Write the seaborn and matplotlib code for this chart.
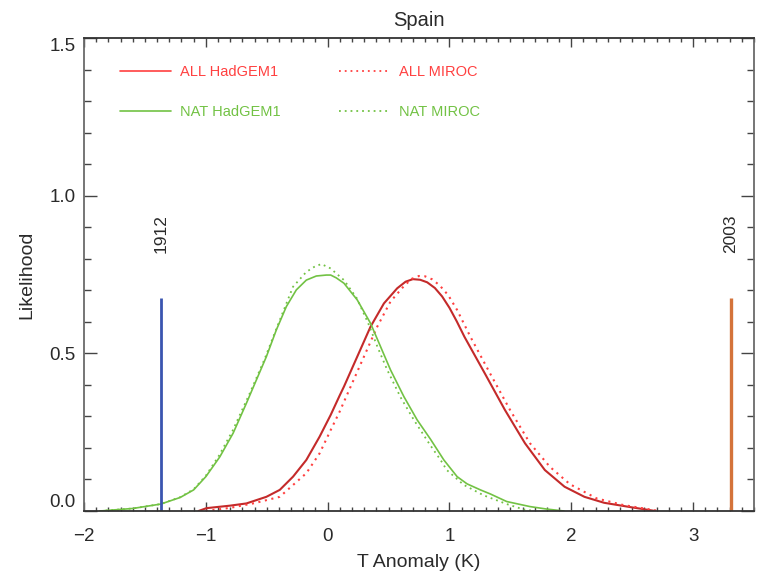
import numpy as np
import pandas as pd
import matplotlib
matplotlib.use("Agg")
import matplotlib.pyplot as plt
from matplotlib.lines import Line2D
from matplotlib.ticker import MultipleLocator, FixedLocator
import seaborn as sns

# ---------------- data ----------------
nat_had_x = [-1.87, -1.6, -1.37, -1.21, -1.10, -1.0, -0.885, -0.776, -0.667, -0.585, -0.503,
             -0.421, -0.339, -0.257, -0.175, -0.093, -0.011, 0.025, 0.071, 0.134, 0.243, 0.352,
             0.434, 0.516, 0.626, 0.735, 0.844, 0.954, 1.063, 1.145, 1.254, 1.336, 1.47, 1.661,
             1.8, 1.94]
nat_had_y = [0.0, 0.008, 0.022, 0.043, 0.067, 0.109, 0.172, 0.247, 0.342, 0.416, 0.49,
             0.575, 0.649, 0.702, 0.733, 0.746, 0.749, 0.749, 0.740, 0.723, 0.67, 0.596,
             0.522, 0.448, 0.363, 0.289, 0.228, 0.162, 0.109, 0.086, 0.067, 0.054, 0.03, 0.014,
             0.006, 0.0]

nat_miroc_x = [-1.87, -1.6, -1.37, -1.21, -1.10, -1.0, -0.89, -0.78, -0.639, -0.52, -0.393,
               -0.284, -0.175, -0.11, -0.052, 0.025, 0.071, 0.134, 0.24, 0.333, 0.41, 0.489,
               0.6, 0.708, 0.842, 0.927, 0.978, 1.117, 1.279, 1.47, 1.607, 1.7]
nat_miroc_y = [0.0, 0.008, 0.022, 0.044, 0.069, 0.112, 0.177, 0.255, 0.374, 0.48, 0.606,
               0.712, 0.759, 0.775, 0.784, 0.77, 0.754, 0.733, 0.675, 0.596, 0.52, 0.448,
               0.36, 0.289, 0.209, 0.162, 0.13, 0.083, 0.05, 0.022, 0.005, 0.0]

all_had_x = [-1.06, -0.995, -0.8, -0.667, -0.503, -0.393, -0.284, -0.175, -0.066, 0.025, 0.098,
             0.134, 0.243, 0.352, 0.462, 0.571, 0.64, 0.7, 0.76, 0.817, 0.88, 0.94, 1.0, 1.06,
             1.123, 1.29, 1.455, 1.62, 1.783, 1.945, 2.108, 2.27, 2.49, 2.69]
all_had_y = [0.0, 0.009, 0.017, 0.024, 0.045, 0.067, 0.109, 0.162, 0.236, 0.305, 0.366,
             0.395, 0.49, 0.585, 0.659, 0.707, 0.728, 0.736, 0.734, 0.726, 0.708, 0.681, 0.645,
             0.602, 0.553, 0.437, 0.321, 0.215, 0.13, 0.077, 0.045, 0.026, 0.012, 0.0]

all_miroc_x = [-1.0, -0.8, -0.6, -0.393, -0.175, -0.066, 0.025, 0.098, 0.189, 0.298, 0.407,
               0.516, 0.626, 0.69, 0.749, 0.80, 0.86, 0.92, 0.99, 1.063, 1.172, 1.333, 1.497,
               1.661, 1.825, 1.989, 2.208, 2.426, 2.645, 2.72]
all_miroc_y = [0.0, 0.01, 0.025, 0.045, 0.12, 0.183, 0.257, 0.315, 0.395, 0.49, 0.585,
               0.665, 0.714, 0.737, 0.746, 0.745, 0.735, 0.716, 0.685, 0.638, 0.553, 0.437,
               0.321, 0.215, 0.14, 0.085, 0.04, 0.019, 0.005, 0.0]

event_labels = ["1912", "2003"]
event_x = [-1.37, 3.31]
event_height = [0.676, 0.676]
event_label_y = [0.82, 0.82]

legend_labels = ["ALL HadGEM1", "NAT HadGEM1", "ALL MIROC", "NAT MIROC"]
x_ticks = [-2, -1, 0, 1, 2, 3]
y_ticks = [0.0, 0.5, 1.0, 1.5]
y_tick_labels = ["0.0", "0.5", "1.0", "1.5"]

# ---------------- style ----------------
sns.set_style("ticks")
plt.rcParams["font.family"] = ["Liberation Sans", "DejaVu Sans"]
plt.rcParams["axes.unicode_minus"] = True

RED_DARK = "#c42a2a"
RED_LIGHT = "#ff4040"
GREEN = "#72c244"
BLUE = "#3a55b0"
ORANGE = "#d4733a"
TXT = "#2a2a2a"
DOT = (0, (1, 2.2))

fig = plt.figure(figsize=(7.59, 5.77), dpi=100)
ax = fig.add_axes([0.1107, 0.1144, 0.8827, 0.8189])

curves = [
    (all_had_x, all_had_y, RED_DARK, "-", 1.5),
    (all_miroc_x, all_miroc_y, RED_LIGHT, DOT, 1.5),
    (nat_had_x, nat_had_y, GREEN, "-", 1.2),
    (nat_miroc_x, nat_miroc_y, GREEN, DOT, 1.3),
]
for xs, ys, c, ls, lw in curves:
    df = pd.DataFrame({"x": xs, "y": ys})
    sns.lineplot(data=df, x="x", y="y", ax=ax, color=c, linestyle=ls, linewidth=lw,
                 sort=False, estimator=None)

ev_colors = [BLUE, ORANGE]
ev_widths = [2.0, 2.4]
for lab, ex, eh, ly, c, w in zip(event_labels, event_x, event_height, event_label_y,
                                 ev_colors, ev_widths):
    ax.vlines(ex, 0, eh, color=c, linewidth=w)
    ax.text(ex, ly, lab, rotation=90, ha="center", va="bottom", fontsize=12.5, color=TXT)

ax.set_xlim(-2, 3.5)
ax.set_ylim(0, 1.5)
ax.xaxis.set_major_locator(FixedLocator(x_ticks))
ax.xaxis.set_minor_locator(MultipleLocator(0.1))
ax.set_yticks(y_ticks)
ax.set_yticklabels(y_tick_labels)
ax.yaxis.set_minor_locator(MultipleLocator(0.1))

ax.tick_params(which="both", direction="in", top=True, right=True, colors="#444444",
               labelcolor=TXT, width=1.0)
ax.tick_params(axis="x", which="major", length=6.5, pad=12, labelsize=13.5)
ax.tick_params(axis="x", which="minor", length=3.2)
ax.tick_params(axis="y", which="major", length=9.5, pad=6, labelsize=13.5)
ax.tick_params(axis="y", which="minor", length=5)

labs = ax.get_yticklabels()
labs[0].set_verticalalignment("bottom")
labs[-1].set_verticalalignment("top")

for side in ["top", "bottom"]:
    ax.spines[side].set_color("#333333")
    ax.spines[side].set_linewidth(1.3)
for side in ["left", "right"]:
    ax.spines[side].set_color("#6a6a6a")
    ax.spines[side].set_linewidth(1.3)

ax.set_xlabel("T Anomaly (K)", fontsize=14, color=TXT, labelpad=6.5)
ax.set_ylabel("Likelihood", fontsize=14, color=TXT, labelpad=10)
ax.set_title("Spain", fontsize=14.5, color=TXT, pad=9)

handles = [
    Line2D([], [], color=RED_LIGHT, linestyle="-", linewidth=1.2),
    Line2D([], [], color=GREEN, linestyle="-", linewidth=1.2),
    Line2D([], [], color=RED_LIGHT, linestyle=DOT, linewidth=1.3),
    Line2D([], [], color=GREEN, linestyle=DOT, linewidth=1.3),
]
label_colors = [RED_LIGHT, GREEN, RED_LIGHT, GREEN]
ax.legend(handles, legend_labels, ncol=2, loc="upper left",
          bbox_to_anchor=(0.0537, 0.943), borderaxespad=0, borderpad=0,
          frameon=False, fontsize=10.5, handlelength=3.5, handletextpad=0.6,
          columnspacing=4.05, labelspacing=1.75, labelcolor=label_colors)

fig.savefig("out.png", dpi=100)
